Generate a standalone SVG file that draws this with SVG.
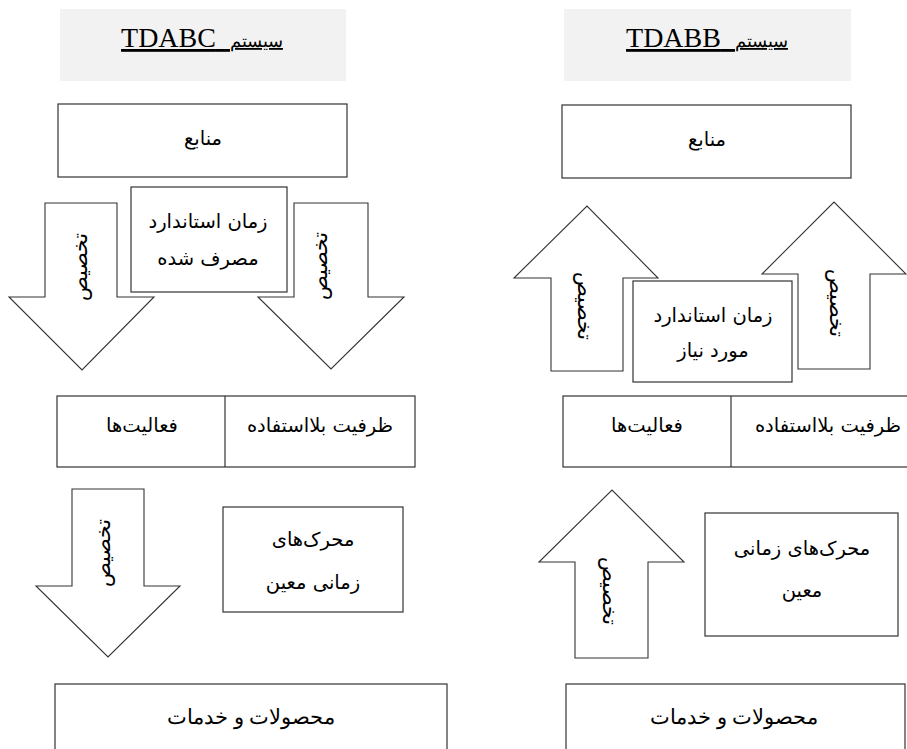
<svg xmlns="http://www.w3.org/2000/svg" width="907" height="749" viewBox="0 0 907 749">
<style>
  .box { fill: #ffffff; stroke: #333333; stroke-width: 1.2; }
  .hdr { fill: #f2f2f2; stroke: none; }
  .arrow { fill: #ffffff; stroke: #333333; stroke-width: 1.1; stroke-linejoin: miter; }
  .t { font-family: "DejaVu Sans", "Noto Sans", sans-serif; font-size: 19.5px; fill: #000; text-anchor: middle; direction: rtl; }
  .ts { font-family: "Liberation Serif", "DejaVu Serif", serif; font-size: 21px; fill: #000; text-anchor: middle; direction: rtl; }
  .h { font-family: "Liberation Serif", "Times New Roman", serif; font-size: 18px; fill: #000; text-anchor: middle; direction: rtl; text-decoration: underline; }
  .h .lat { font-family: "Liberation Serif", "Times New Roman", serif; font-size: 28px; }
  .v { font-family: "DejaVu Sans", "Noto Sans", sans-serif; font-size: 20.5px; fill: #000; text-anchor: middle; dominant-baseline: central; direction: rtl; }
</style>
<rect width="907" height="749" fill="#ffffff"/>

<!-- ===== Left panel: TDABC ===== -->
<g id="header-tdabc">
  <rect class="hdr" x="60" y="9" width="286" height="72"/>
  <text class="h" x="202" y="47">سیستم<tspan class="lat">&#160;&#160;TDABC</tspan></text>
</g>

<g id="connectors">
  <!-- left panel arrows (down) -->
  <g id="arrow-l1">
    <polygon class="arrow" points="45,203 117,203 117,297 154,297 82,370 9,297 45,297"/>
    <text class="v" transform="translate(80,267) rotate(-90)">تخصیص</text>
  </g>
  <g id="arrow-l2">
    <polygon class="arrow" points="294,203 368,203 368,297 404,297 331,369 258,297 294,297"/>
    <text class="v" transform="translate(320,266) rotate(-90)">تخصیص</text>
  </g>
  <g id="arrow-l3">
    <polygon class="arrow" points="72,489 144,489 144,586 180,586 108,657 36,586 72,586"/>
    <text class="v" transform="translate(103,553) rotate(-90)">تخصیص</text>
  </g>
  <!-- right panel arrows (up) -->
  <g id="arrow-r1">
    <polygon class="arrow" points="551,371 623,371 623,278 658,278 587,206 514,278 551,278"/>
    <text class="v" transform="translate(585,306) rotate(90)">تخصیص</text>
  </g>
  <g id="arrow-r2">
    <polygon class="arrow" points="798,369 870,369 870,274 906,274 834,202 762,274 798,274"/>
    <text class="v" transform="translate(837,303) rotate(90)">تخصیص</text>
  </g>
  <g id="arrow-r3">
    <polygon class="arrow" points="575,658 648,658 648,562 684,562 612,490 539,562 575,562"/>
    <text class="v" transform="translate(610,591) rotate(90)">تخصیص</text>
  </g>
</g>

<g id="resources-l">
  <rect class="box" x="58" y="104" width="289" height="73"/>
  <text class="t" x="203" y="145">منابع</text>
</g>

<g id="std-time-used">
  <rect class="box" x="131" y="187" width="156" height="105"/>
  <text class="t" x="208" y="228">زمان استاندارد</text>
  <text class="t" x="208" y="265">مصرف شده</text>
</g>

<g id="capacity-l">
  <rect class="box" x="57" y="396" width="358" height="71"/>
  <line x1="225" y1="396" x2="225" y2="467" stroke="#333333" stroke-width="1.2"/>
  <text class="t" x="142" y="432">فعالیت‌ها</text>
  <text class="t" x="320" y="432">ظرفیت بلااستفاده</text>
</g>

<g id="drivers-l">
  <rect class="box" x="223" y="507" width="180" height="105"/>
  <text class="t" x="313" y="546">محرک‌های</text>
  <text class="t" x="313" y="589">زمانی معین</text>
</g>

<g id="products-l">
  <rect class="box" x="55" y="684" width="392" height="80"/>
  <text class="ts" x="251" y="724">محصولات و خدمات</text>
</g>

<!-- ===== Right panel: TDABB ===== -->
<g id="header-tdabb">
  <rect class="hdr" x="564" y="9" width="287" height="72"/>
  <text class="h" x="707" y="47">سیستم<tspan class="lat">&#160;&#160;TDABB</tspan></text>
</g>

<g id="resources-r">
  <rect class="box" x="562" y="105" width="289" height="73"/>
  <text class="t" x="707" y="146">منابع</text>
</g>

<g id="std-time-required">
  <rect class="box" x="633" y="281" width="159" height="101"/>
  <text class="t" x="713" y="322">زمان استاندارد</text>
  <text class="t" x="713" y="357">مورد نیاز</text>
</g>

<g id="capacity-r">
  <rect class="box" x="563" y="396" width="350" height="71"/>
  <line x1="731" y1="396" x2="731" y2="467" stroke="#333333" stroke-width="1.2"/>
  <text class="t" x="647" y="432">فعالیت‌ها</text>
  <text class="t" x="828" y="432">ظرفیت بلااستفاده</text>
</g>

<g id="drivers-r">
  <rect class="box" x="705" y="513" width="193" height="123"/>
  <text class="t" x="802" y="555">محرک‌های زمانی</text>
  <text class="t" x="802" y="597">معین</text>
</g>

<g id="products-r">
  <rect class="box" x="566" y="684" width="339" height="80"/>
  <text class="ts" x="734" y="724">محصولات و خدمات</text>
</g>
</svg>
